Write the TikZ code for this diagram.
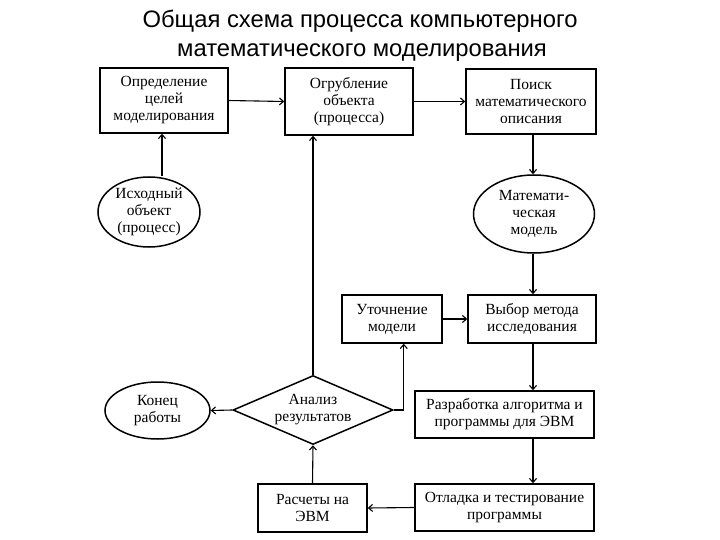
\documentclass[tikz,border=0pt]{standalone}
\usepackage{fontspec}
\setmainfont{Liberation Serif}
\newfontfamily\titlefont{Liberation Sans}
\usetikzlibrary{arrows.meta,shapes.geometric,calc}
\begin{document}
\begin{tikzpicture}[x=1pt,y=-1pt,
  txt/.style={font=\fontsize{15.5}{17}\selectfont},
  box/.style={draw,line width=1.5pt,inner sep=0pt,align=center,txt},
  oval/.style={draw,ellipse,line width=1.5pt,inner sep=0pt,align=center,txt},
  dmd/.style={draw,diamond,line width=1.5pt,inner sep=0pt,align=center,txt},
  arr/.style={line width=1.1pt,-{Straight Barb[length=4pt,width=7pt]}},
  ttl/.style={font=\titlefont\fontsize{23.8}{28}\selectfont,anchor=base}]
\useasboundingbox (0,0) rectangle (720,540);
\fill[white] (0,0) rectangle (720,540);
\node[ttl] (t1) at (360,28) {Общая схема процесса компьютерного};
\node[ttl] (t2) at (362,57) {математического моделирования};

\node[box,minimum width=128,minimum height=65] (b1) at (164,100.5) {Определение\\целей\\моделирования};
\node[box,minimum width=128,minimum height=67] (b2) at (349,101.5) {Огрубление\\объекта\\(процесса)};
\node[box,minimum width=130,minimum height=65] (b3) at (531,101.5) {Поиск\\математического\\описания};
\node[oval,minimum width=102,minimum height=70] (ish) at (149,212) {Исходный\\объект\\(процесс)};
\node[oval,minimum width=121,minimum height=78] (mat) at (534,214) {Математи-\\ческая\\модель};
\node[box,minimum width=100,minimum height=48] (ut) at (392,319) {Уточнение\\модели};
\node[box,minimum width=128,minimum height=48] (vyb) at (532,319) {Выбор метода\\исследования};
\node[dmd,minimum width=160,minimum height=69,aspect=2.3] (dia) at (313,410) {Анализ\\результатов};
\node[oval,minimum width=105,minimum height=57] (end) at (157.5,410.5) {Конец\\работы};
\node[box,minimum width=179,minimum height=47] (raz) at (504.5,414.5) {Разработка алгоритма и\\программы для ЭВМ};
\node[box,minimum width=109,minimum height=48] (ras) at (312.5,508) {Расчеты на\\ЭВМ};
\node[box,minimum width=179,minimum height=47] (otl) at (504.5,507.5) {Отладка и тестирование\\программы};

\coordinate (cx) at (533,0);
\draw[arr] (b1.east) -- (b2.west);
\draw[arr] (b2.east) -- (b3.west);
\draw[arr] (ish.north -| 162,0) -- (b1.south -| 162,0);
\draw[arr] (b3.south -| cx) -- (mat.north -| cx);
\draw[arr] (mat.south -| cx) -- (vyb.north -| cx);
\draw[arr] (ut.east) -- (vyb.west);
\draw[arr] (vyb.south -| cx) -- (raz.north -| cx);
\draw[arr] (raz.south -| cx) -- (otl.north -| cx);
\draw[arr] (otl.west) -- (ras.east);
\draw[arr] (ras.north) -- (dia.south);
\draw[arr] (dia.west) -- (end.east);
\draw[arr] (dia.north) -- (dia.north |- b2.south);
\coordinate (k) at ($(dia.east)+(10,0)$);
\draw[arr] (dia.east) -- (k) -- (k |- ut.south);
\end{tikzpicture}
\end{document}
